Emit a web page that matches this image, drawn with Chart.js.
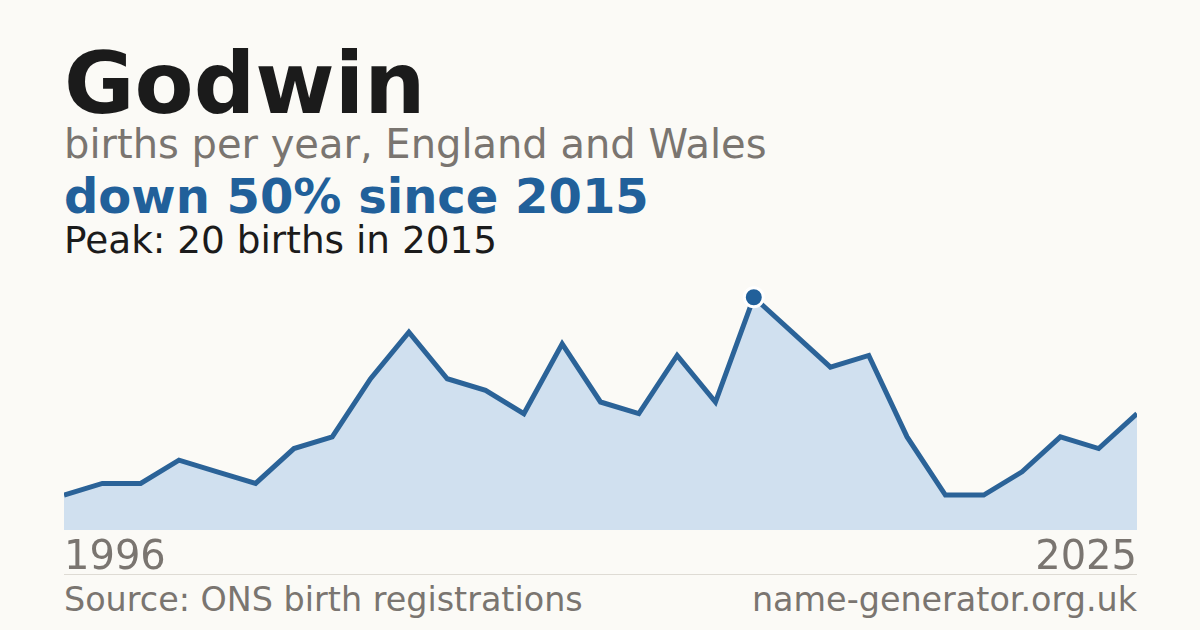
<!DOCTYPE html>
<html>
<head>
    <title>Godwin</title>
    <script src="https://cdn.jsdelivr.net/npm/chart.js"></script>
    <style>
        body {
            margin: 0;
            width: 1200px;
            height: 630px;
            overflow: hidden;
            position: relative;
            background-color: #fbfaf6;
            font-family: "DejaVu Sans", sans-serif;
        }
        .txt {
            position: absolute;
            left: 64px;
            line-height: 1;
            white-space: nowrap;
        }
        #title { top: 40px; font-size: 86px; font-weight: bold; color: #1b1b1b; }
        #sub { top: 124px; font-size: 40px; color: #7a7570; }
        #change { top: 172px; font-size: 48px; font-weight: bold; color: #21609a; }
        #peak { top: 222px; font-size: 37.4px; color: #1b1b1b; }
        #rule {
            position: absolute;
            left: 64px;
            top: 574px;
            width: 1073px;
            height: 1px;
            background-color: #dedbd4;
        }
        #source { top: 583px; font-size: 33.4px; color: #7a7570; }
        #site { top: 583px; left: auto; right: 63px; font-size: 33.4px; color: #7a7570; }
        .chart-box {
            position: absolute;
            left: 64px;
            top: 274px;
            width: 1073px;
            height: 306px;
        }
    </style>
</head>
<body>
<div class="txt" id="title">Godwin</div>
<div class="txt" id="sub">births per year, England and Wales</div>
<div class="txt" id="change">down 50% since 2015</div>
<div class="txt" id="peak">Peak: 20 births in 2015</div>
<div class="chart-box"><canvas id="nameChart"></canvas></div>
<div id="rule"></div>
<div class="txt" id="source">Source: ONS birth registrations</div>
<div class="txt" id="site">name-generator.org.uk</div>

<script>
    // 29 points drawn evenly; one year before 2015 is not in the series
    const years = [1996, 1998, 1999, 2000, 2001, 2002, 2003, 2004, 2005, 2006,
                   2007, 2008, 2009, 2010, 2011, 2012, 2013, 2014, 2015, 2016,
                   2017, 2018, 2019, 2020, 2021, 2022, 2023, 2024, 2025];
    const births = [3, 4, 4, 6, 5, 4, 7, 8, 13, 17,
                    13, 12, 10, 16, 11, 10, 15, 11, 20, 17,
                    14, 15, 8, 3, 3, 5, 8, 7, 10];

    const peakIndex = births.indexOf(Math.max(...births));
    const lastIndex = years.length - 1;

    const ctx = document.getElementById('nameChart').getContext('2d');
    new Chart(ctx, {
        type: 'line',
        data: {
            labels: years,
            datasets: [{
                data: births,
                borderColor: '#2b6398',
                borderWidth: 5,
                backgroundColor: '#d0e0ef',
                fill: 'origin',
                tension: 0,
                clip: false,
                pointRadius: c => c.dataIndex === peakIndex ? 9.5 : 0,
                pointBackgroundColor: '#21609a',
                pointBorderColor: '#ffffff',
                pointBorderWidth: 3
            }]
        },
        options: {
            responsive: true,
            maintainAspectRatio: false,
            animation: false,
            events: [],
            layout: { autoPadding: false, padding: 0 },
            plugins: { legend: { display: false }, tooltip: { enabled: false } },
            scales: {
                x: {
                    grid: { display: false },
                    border: { display: false },
                    afterFit: s => { s.height = 50; },
                    ticks: {
                        autoSkip: false,
                        maxRotation: 0,
                        align: 'inner',
                        padding: -3,
                        color: '#7a7570',
                        font: { family: 'DejaVu Sans', size: 40 },
                        callback: function (value, index) {
                            return (index === 0 || index === lastIndex) ? this.getLabelForValue(value) : '';
                        }
                    }
                },
                y: { display: false, min: 0, max: 22 }
            }
        }
    });
</script>
</body>
</html>
